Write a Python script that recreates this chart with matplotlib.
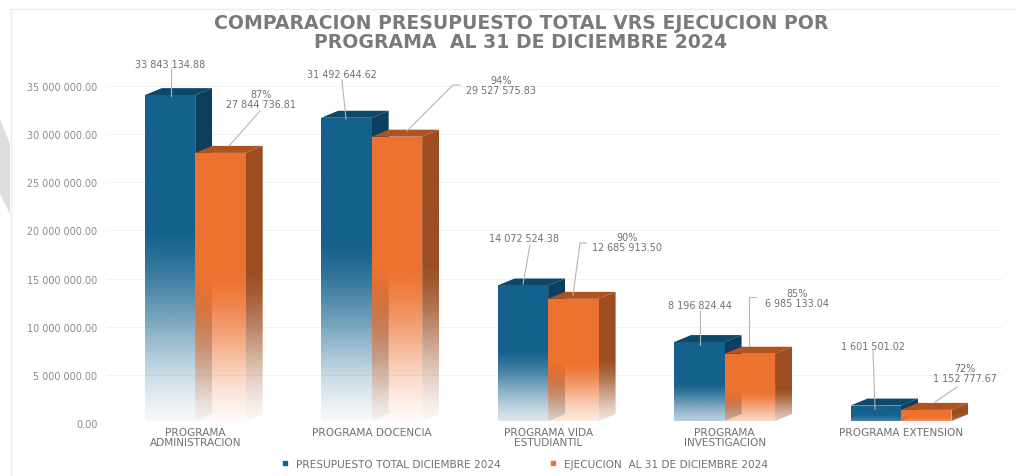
import numpy as np
import matplotlib
matplotlib.use('Agg')
import matplotlib.pyplot as plt
from matplotlib.colors import to_rgb
from matplotlib.lines import Line2D
from matplotlib.patches import Polygon
from matplotlib.ticker import FuncFormatter

categories = ['PROGRAMA\nADMINISTRACION', 'PROGRAMA DOCENCIA', 'PROGRAMA VIDA\nESTUDIANTIL',
              'PROGRAMA\nINVESTIGACION', 'PROGRAMA EXTENSION']
presupuesto = [33843134.88, 31492644.62, 14072524.38, 8196824.44, 1601501.02]
ejecucion = [27844736.81, 29527575.83, 12685913.50, 6985133.04, 1152777.67]
porcentaje = ['87%', '94%', '90%', '85%', '72%']
y_ticks = [0, 5e6, 10e6, 15e6, 20e6, 25e6, 30e6, 35e6]
serie_1 = 'PRESUPUESTO TOTAL DICIEMBRE 2024'
serie_2 = 'EJECUCION  AL 31 DE DICIEMBRE 2024'
titulo = 'COMPARACION PRESUPUESTO TOTAL VRS EJECUCION POR\nPROGRAMA  AL 31 DE DICIEMBRE 2024'

W, H = 1021, 477
plt.rcParams['font.family'] = ['DejaVu Sans']
small = 6.9
caps = 7.6
text_grey = '#707070'

fig = plt.figure(figsize=(W / 100, H / 100), dpi=100)
ax = fig.add_axes([107 / W, (H - 424) / H, 896 / W, 337 / H])

# pixel sizes turned into data units
px_x = 1 / 176.5
px_y = 5e6 / 48.1
bar_w = 50.5 * px_x
dx = 17 * px_x
dy = 7 * px_y
base = 2 * px_y

fade_end = [0.04, 0.04, 0.16, 0.3, 0.8]
fade_start = [0.42, 0.42, 0.48, 0.52, 0.6]


def gradient_face(points, color, x0, x1, y0, y1, start, end, z):
    # vertical fade towards white, clipped to the face of the bar
    n = 256
    frac = np.linspace(0, 1, n)
    t = np.clip((frac - start) / (1 - start), 0, 1)
    t = 0.5 * t + 0.5 * t * t * (3 - 2 * t)
    alpha = 1 + (end - 1) * t
    img = np.ones((n, 1, 4))
    img[:, 0, :3] = to_rgb(color)
    img[:, 0, 3] = alpha
    im = ax.imshow(img, extent=[x0, x1, y0, y1], aspect='auto', zorder=z, interpolation='bilinear')
    clip = Polygon(points, closed=True, transform=ax.transData, fill=False, edgecolor='none')
    ax.add_patch(clip)
    im.set_clip_path(clip)


def bar3d(x, value, front, side, top, start, end, z):
    x1 = x + bar_w
    y1 = value + base
    gradient_face([(x1, base), (x1 + dx, base + dy), (x1 + dx, y1 + dy), (x1, y1)],
                  side, x1, x1 + dx, base, y1 + dy, start, end, z)
    ax.add_patch(Polygon([(x, y1), (x + dx, y1 + dy), (x1 + dx, y1 + dy), (x1, y1)],
                         closed=True, facecolor=top, edgecolor='none', zorder=z + 0.1))
    gradient_face([(x, base), (x1, base), (x1, y1), (x, y1)],
                  front, x, x1, base, y1, start, end, z + 0.2)


for i in range(len(categories)):
    bar3d(i - bar_w, presupuesto[i], '#14618c', '#0c3f5e', '#0e4869',
          fade_start[i], fade_end[i], 3 + i)
    bar3d(i, ejecucion[i], '#ed7230', '#9c4e22', '#ad5420',
          fade_start[i] + 0.05, fade_end[i], 3.5 + i)

ax.set_xlim(-0.5, 4.578)
ax.set_ylim(0, 35e6)
ax.set_xticks(range(len(categories)))
ax.set_xticklabels(categories, fontsize=caps, color=text_grey, linespacing=1.0)
ax.set_yticks(y_ticks)
ax.yaxis.set_major_formatter(FuncFormatter(lambda v, p: f'{v:,.2f}'.replace(',', ' ')))
ax.tick_params(axis='y', length=0, pad=7, labelsize=small, labelcolor='#8a8a8a')
ax.tick_params(axis='x', length=0, pad=3)
ax.grid(axis='y', color='#f3f3f3', linewidth=0.8)
ax.set_axisbelow(True)
for s in ax.spines.values():
    s.set_visible(False)

# leader lines and value labels, positions in image pixels
labels_1 = [(170, 65), (342, 75), (524, 239), (700, 306), (873, 347)]
leaders_1 = [[(171, 69), (171, 97)], [(342, 81), (346, 120)], [(530, 246), (523, 285)],
             [(700, 312), (700, 346)], [(873, 352), (875, 410)]]
labels_2 = [(261, 100), (501, 86), (627, 243), (797, 299), (965, 374)]
leaders_2 = [[(260, 112), (229, 147)], [(460, 86), (453, 86), (407, 132)],
             [(586, 244), (580, 244), (573, 296)],
             [(756, 298), (749, 298), (749, 347)], [(957, 388), (935, 403)]]

for i in range(len(categories)):
    fig.text(labels_1[i][0] / W, 1 - labels_1[i][1] / H, f'{presupuesto[i]:,.2f}'.replace(',', ' '),
             ha='center', va='center', fontsize=small, color=text_grey)
    fig.text(labels_2[i][0] / W, 1 - labels_2[i][1] / H,
             porcentaje[i] + '\n' + f'{ejecucion[i]:,.2f}'.replace(',', ' '),
             ha='center', va='center', fontsize=small, color=text_grey, linespacing=0.95)
    for line in (leaders_1[i], leaders_2[i]):
        xs = [p[0] / W for p in line]
        ys = [1 - p[1] / H for p in line]
        fig.add_artist(Line2D(xs, ys, color='#b5b5b5', linewidth=0.8, zorder=20))

fig.text(521 / W, 1 - 33 / H, titulo, ha='center', va='center', fontsize=13.6, fontweight='bold',
         color='#7a7a7a', linespacing=0.98)

handles = [Line2D([], [], linestyle='none', marker='s', markersize=2.5, color='#14618c', label=serie_1),
           Line2D([], [], linestyle='none', marker='s', markersize=2.5, color='#ed7230', label=serie_2)]
fig.legend(handles=handles, loc='center', bbox_to_anchor=(521 / W, 1 - 465 / H), ncol=2, frameon=False,
           fontsize=caps, labelcolor=text_grey, columnspacing=4.0, handletextpad=0.0)

# faint frame and grey shape of the slide behind the chart
fig.add_artist(Line2D([10 / W, 1 - 6 / W], [1 - 10 / H, 1 - 10 / H], color='#ececec', linewidth=1))
fig.add_artist(Line2D([11 / W, 11 / W], [0, 1 - 10 / H], color='#ececec', linewidth=1))
fig.add_artist(Polygon([(0, 1 - 120 / H), (10 / W, 1 - 145 / H), (10 / W, 1 - 215 / H), (0, 1 - 195 / H)],
                       closed=True, transform=fig.transFigure, facecolor='#dedede', edgecolor='none'))

plt.savefig('out.png', dpi=100)
